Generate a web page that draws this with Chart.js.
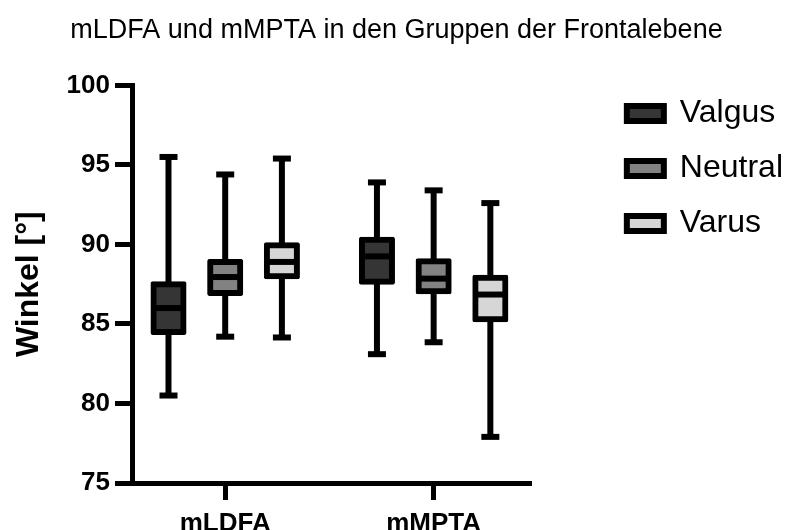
<!DOCTYPE html>
<html>
<head>
<meta charset="utf-8">
<script src="https://cdn.jsdelivr.net/npm/chart.js@4/dist/chart.umd.min.js"></script>
<style>
  html, body { margin: 0; padding: 0; background: #fff; }
  #wrap { width: 793px; height: 530px; }
</style>
</head>
<body>
<div id="wrap"><canvas id="chart"></canvas></div>
<script>
// Categories on the x axis and the three alignment groups
const categories = ['mLDFA', 'mMPTA'];
const groupNames = ['Valgus', 'Neutral', 'Varus'];
const groupColors = ['#353535', '#828282', '#d6d6d6'];

// Five-number summaries (degrees), one value per category
const valgusMin    = [80.5, 83.1];
const valgusQ1     = [84.5, 87.65];
const valgusMedian = [86.0, 89.25];
const valgusQ3     = [87.5, 90.3];
const valgusMax    = [95.5, 93.9];

const neutralMin    = [84.2, 83.85];
const neutralQ1     = [86.95, 87.05];
const neutralMedian = [87.95, 87.85];
const neutralQ3     = [88.9, 88.95];
const neutralMax    = [94.4, 93.4];

const varusMin    = [84.15, 77.9];
const varusQ1     = [88.0, 85.3];
const varusMedian = [88.9, 86.85];
const varusQ3     = [89.95, 87.9];
const varusMax    = [95.4, 92.6];

// Value axis ticks
const yTicks = [75, 80, 85, 90, 95, 100];

const summaries = [
  { min: valgusMin,  q1: valgusQ1,  median: valgusMedian,  q3: valgusQ3,  max: valgusMax },
  { min: neutralMin, q1: neutralQ1, median: neutralMedian, q3: neutralQ3, max: neutralMax },
  { min: varusMin,   q1: varusQ1,   median: varusMedian,   q3: varusQ3,   max: varusMax }
];

const FONT = "'Liberation Sans', Arial, Helvetica, sans-serif";
Chart.defaults.font.family = FONT;
Chart.defaults.color = '#000';

// Whiskers go behind the boxes; caps and medians are drawn on top
function drawBoxParts(chart, layer) {
  const ctx = chart.ctx;
  const yScale = chart.scales.y;
  ctx.save();
  ctx.strokeStyle = '#000';
  ctx.lineCap = 'butt';
  const seg = (x1, y1, x2, y2, w) => {
    ctx.lineWidth = w;
    ctx.beginPath();
    ctx.moveTo(x1, y1);
    ctx.lineTo(x2, y2);
    ctx.stroke();
  };
  summaries.forEach((s, di) => {
    const meta = chart.getDatasetMeta(di);
    if (meta.hidden) return;
    meta.data.forEach((bar, i) => {
      const x = bar.x;
      const half = bar.width / 2;
      const yMax = yScale.getPixelForValue(s.max[i]);
      const yMin = yScale.getPixelForValue(s.min[i]);
      const yMed = yScale.getPixelForValue(s.median[i]);
      if (layer === 'back') {
        seg(x, yMax, x, yMin, 6);
      } else {
        seg(x - 9, yMax, x + 9, yMax, 6);
        seg(x - 9, yMin, x + 9, yMin, 6);
        seg(x - half, yMed, x + half, yMed, 6);
      }
    });
  });
  ctx.restore();
}

const boxPlotPlugin = {
  id: 'boxPlotParts',
  beforeDatasetsDraw(chart) { drawBoxParts(chart, 'back'); },
  afterDatasetsDraw(chart) { drawBoxParts(chart, 'front'); }
};

const datasets = groupNames.map((name, di) => ({
  label: name,
  data: categories.map((c, i) => ({ x: i, y: [summaries[di].q1[i], summaries[di].q3[i]] })),
  backgroundColor: groupColors[di],
  borderColor: '#000',
  borderWidth: 6,
  borderSkipped: false,
  borderRadius: 2,
  inflateAmount: 3,
  categoryPercentage: 0.816,
  barPercentage: 0.53
}));

new Chart(document.getElementById('chart'), {
  type: 'bar',
  data: { datasets },
  plugins: [boxPlotPlugin],
  options: {
    responsive: true,
    maintainAspectRatio: false,
    devicePixelRatio: 1,
    animation: false,
    layout: { padding: { left: 0, right: 0, top: 0, bottom: 0 } },
    plugins: {
      tooltip: { enabled: false },
      title: {
        display: true,
        text: 'mLDFA und mMPTA in den Gruppen der Frontalebene',
        color: '#000',
        font: { family: FONT, size: 27, weight: 'normal' },
        padding: { top: 14, bottom: 39 }
      },
      legend: {
        position: 'right',
        align: 'start',
        maxWidth: 190,
        title: { display: true, text: '', font: { size: 12 }, padding: { top: 0, bottom: 60 } },
        labels: {
          color: '#000',
          font: { family: FONT, size: 32 },
          boxWidth: 37,
          boxHeight: 15,
          padding: 23
        }
      }
    },
    scales: {
      x: {
        type: 'linear',
        position: 'bottom',
        offset: false,
        min: -0.4471,
        max: 1.4615,
        bounds: 'data',
        afterBuildTicks: (scale) => { scale.ticks = categories.map((c, i) => ({ value: i })); },
        afterFit: (scale) => { scale.height = 47; },
        ticks: {
          autoSkip: false,
          maxRotation: 0,
          padding: 8,
          color: '#000',
          font: { family: FONT, size: 26, weight: 'bold' },
          callback: (v) => categories[v]
        },
        grid: { offset: false, drawOnChartArea: false, drawTicks: true, tickLength: 17, lineWidth: 5, color: '#000' },
        border: { display: true, width: 5, color: '#000' }
      },
      y: {
        position: 'left',
        min: yTicks[0],
        max: yTicks[yTicks.length - 1],
        afterBuildTicks: (scale) => { scale.ticks = yTicks.map(v => ({ value: v })); },
        afterFit: (scale) => { scale.width = 132; },
        ticks: {
          padding: 5,
          color: '#000',
          font: { family: FONT, size: 26, weight: 'bold' }
        },
        grid: { drawOnChartArea: false, drawTicks: true, tickLength: 17, lineWidth: 5, color: '#000' },
        border: { display: true, width: 5, color: '#000' },
        title: {
          display: true,
          text: 'Winkel [°]',
          color: '#000',
          font: { family: FONT, size: 32, weight: 'bold' },
          padding: { top: 10, bottom: 0 }
        }
      },
      gap: {
        type: 'linear',
        position: 'right',
        display: true,
        afterFit: (scale) => { scale.width = 74; },
        ticks: { display: false },
        grid: { display: false },
        border: { display: false }
      }
    }
  }
});
</script>
</body>
</html>
